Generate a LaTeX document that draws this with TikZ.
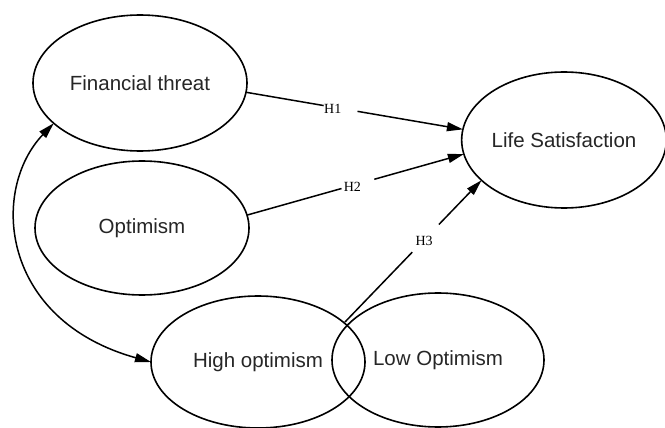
\documentclass[tikz,border=0pt]{standalone}
\usepackage{fontspec}
\setmainfont{Liberation Sans}
\newfontfamily\hserif{Liberation Serif}
\usetikzlibrary{shapes.geometric,arrows.meta,calc}
\tikzset{
  var/.style={ellipse, draw, line width=1.6pt, inner sep=0pt, outer sep=0pt,
    text=black!85, font=\fontsize{20.5}{24}\selectfont},
  conn/.style={line width=1.5pt},
  arr/.style={line width=1.5pt, -{Triangle[length=16pt,width=9pt]}},
  dblarr/.style={line width=1.5pt, {Triangle[length=16pt,width=9pt]}-{Triangle[length=16pt,width=9pt]}},
  hlab/.style={inner sep=0pt, font=\hserif\fontsize{14}{16}\selectfont, yshift=-1.5pt}
}
\begin{document}
\begin{tikzpicture}[x=1pt,y=-1pt]
\clip (0,0) rectangle (665,428);
\fill[white] (0,0) rectangle (665,428);
\node[var, minimum width=214pt, minimum height=136pt] (ft) at (140,83) {Financial threat};
\node[var, minimum width=214pt, minimum height=134pt] (opt) at (142,228) {Optimism};
\node[var, minimum width=214pt, minimum height=132pt] (high) at (258,362) {High optimism};
\node[var, minimum width=212pt, minimum height=134pt] (low) at (438,360) {Low Optimism};
\node[var, minimum width=202pt, minimum height=136pt] (ls) at (564,140) {Life Satisfaction};
\coordinate (h3start) at (345,322);
% H1
\node[hlab] (h1) at ($(ft.-5)!0.40!(ls.174)$) {H1};
\draw[conn] (ft.-5) -- ($(ft.-5)!0.358!(ls.174)$);
\draw[arr] ($(ft.-5)!0.514!(ls.174)$) -- (ls.174);
% H2
\node[hlab] (h2) at ($(opt.7)!0.486!(ls.188)$) {H2};
\draw[conn] (opt.7) -- ($(opt.7)!0.436!(ls.188)$);
\draw[arr] ($(opt.7)!0.587!(ls.188)$) -- (ls.188);
% H3
\node[hlab] (h3) at ($(h3start)!0.58!(ls.206.8)$) {H3};
\draw[conn] (h3start) -- ($(h3start)!0.493!(ls.206.8)$);
\draw[arr] ($(h3start)!0.688!(ls.206.8)$) -- (ls.206.8);
% covariance
\draw[dblarr] (ft.205) .. controls (-10,190) and (0,320) .. (high.west);
\end{tikzpicture}
\end{document}
